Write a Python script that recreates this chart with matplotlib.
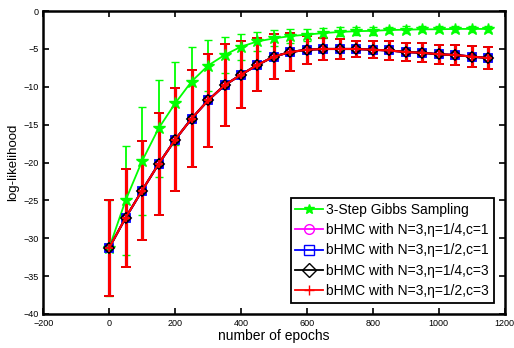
import matplotlib
matplotlib.use('Agg')
import matplotlib.pyplot as plt
from matplotlib.lines import Line2D

plt.rcParams['font.family'] = ['Liberation Sans', 'DejaVu Sans']

epochs = [0, 50, 100, 150, 200, 250, 300, 350, 400, 450, 500, 550,
          600, 650, 700, 750, 800, 850, 900, 950, 1000, 1050, 1100, 1150]

# 3-step Gibbs sampling
gibbs_mean = [-31.3, -25.0, -19.8, -15.5, -12.2, -9.3, -7.2, -5.8, -4.7, -4.0, -3.6, -3.3,
              -3.1, -2.9, -2.75, -2.65, -2.6, -2.5, -2.45, -2.4, -2.4, -2.35, -2.35, -2.35]
gibbs_err = [6.4, 7.2, 7.1, 6.4, 5.5, 4.5, 3.4, 2.4, 1.7, 1.3, 1.05, 0.95,
             0.8, 0.7, 0.6, 0.55, 0.5, 0.45, 0.45, 0.4, 0.4, 0.4, 0.4, 0.4]

# bHMC runs (curves lie on top of each other)
bhmc_mean = [-31.3, -27.3, -23.7, -20.2, -17.0, -14.2, -11.8, -9.8, -8.4, -7.1, -6.0, -5.4,
             -5.1, -5.0, -5.0, -5.0, -5.1, -5.2, -5.4, -5.5, -5.7, -5.8, -6.0, -6.2]
bhmc_err = [6.4, 6.5, 6.6, 6.7, 6.8, 6.45, 6.1, 5.4, 4.4, 3.5, 3.0, 2.5,
            1.85, 1.5, 1.3, 1.1, 1.15, 1.2, 1.2, 1.25, 1.25, 1.35, 1.4, 1.5]

labels = ['3-Step Gibbs Sampling',
          'bHMC with N=3,\u03b7=1/4,c=1',
          'bHMC with N=3,\u03b7=1/2,c=1',
          'bHMC with N=3,\u03b7=1/4,c=3',
          'bHMC with N=3,\u03b7=1/2,c=3']

fig = plt.figure(figsize=(5.14, 3.48), dpi=100)
ax = fig.add_axes([0.084, 0.098, 0.898, 0.870])

handles = []
ax.errorbar(epochs, gibbs_mean, yerr=gibbs_err, color=(0, 1, 0), marker='*',
            markersize=9, lw=1.3, elinewidth=1.3, capsize=3)
handles.append(Line2D([], [], color=(0, 1, 0), marker='*', markersize=7, lw=1.3))

styles = [('o', (1, 0, 1)), ('s', (0, 0, 1)), ('D', 'k'), ('+', (1, 0, 0))]
for m, c in styles:
    ax.errorbar(epochs, bhmc_mean, yerr=bhmc_err, color=c, marker=m,
                markersize=5.5, lw=1.5, elinewidth=2.2, capsize=3.5, capthick=2,
                markerfacecolor='none', markeredgewidth=1.3)
    handles.append(Line2D([], [], color=c, marker=m, markersize=7, lw=1.3,
                          markerfacecolor='none'))

ax.set_xlim(-200, 1200)
ax.set_ylim(-40, 0)
ax.set_xticks(range(-200, 1201, 200))
ax.set_yticks(range(-40, 1, 5))
ax.tick_params(direction='in', top=True, right=True, labelsize=6.5, width=1.2, length=4)
for s in ax.spines.values():
    s.set_linewidth(1.8)
ax.set_xlabel('number of epochs', fontsize=10, labelpad=1)
ax.set_ylabel('log-likelihood', fontsize=9.5, labelpad=3)

leg = ax.legend(handles, labels, loc='lower right', fontsize=10, fancybox=False,
                framealpha=1, edgecolor='k', borderaxespad=0.8, handlelength=2.0,
                handletextpad=0.2, labelspacing=0.45, borderpad=0.35)
leg.get_frame().set_linewidth(1.3)

fig.savefig('out.png', dpi=100)
